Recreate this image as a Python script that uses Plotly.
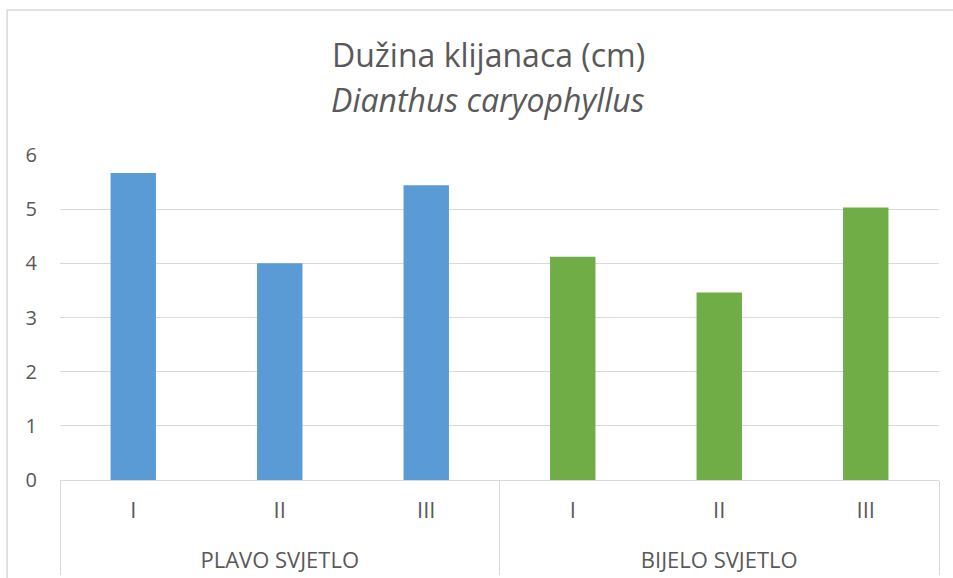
import plotly.graph_objects as go

# Podaci
grupe = ["PLAVO SVJETLO", "BIJELO SVJETLO"]
tretmani = ["I", "II", "III"]
plavo = [5.67, 4.0, 5.44]
bijelo = [4.12, 3.46, 5.03]

boja_plavo = "#5B9BD5"
boja_bijelo = "#70AD47"
siva = "#595959"
font = "Open Sans"

# prazan red ispred naziva grupe da se spusti kao u Excelu
oznake = ["<br>" + g for g in grupe]

fig = go.Figure()
fig.add_trace(go.Bar(x=[[oznake[0]] * 3, tretmani], y=plavo, marker_color=boja_plavo,
                     width=0.31, marker_line_width=0, name=grupe[0]))
fig.add_trace(go.Bar(x=[[oznake[1]] * 3, tretmani], y=bijelo, marker_color=boja_bijelo,
                     width=0.31, marker_line_width=0, name=grupe[1]))

# naslov kao dvije anotacije radi razmaka
fig.add_annotation(text="Dužina klijanaca (cm)", xref="paper", yref="paper",
                   x=0.487, y=1.3077, showarrow=False, yanchor="middle",
                   font=dict(size=32, color=siva, family=font))
fig.add_annotation(text="<i>Dianthus caryophyllus</i>", xref="paper", yref="paper",
                   x=0.487, y=1.1723, showarrow=False, yanchor="middle",
                   font=dict(size=32, color=siva, family=font))

# okvir grafikona
fig.add_shape(type="rect", xref="paper", yref="paper", x0=-0.0602, x1=1.2, y0=-0.6, y1=1.446,
              line=dict(color="#D9D9D9", width=1.5), layer="below")

fig.update_layout(
    width=953, height=578,
    margin=dict(l=60, r=14, t=155, b=98),
    paper_bgcolor="white", plot_bgcolor="white",
    font=dict(family=font, size=20, color=siva),
    barmode="overlay", showlegend=False,
)
fig.update_xaxes(type="multicategory", showline=True, linecolor="#D9D9D9", linewidth=1,
                 dividercolor="#D9D9D9", dividerwidth=1, tickfont=dict(size=22, color=siva),
                 showgrid=False, ticklabelstandoff=11, automargin=False)
fig.update_yaxes(range=[0, 6], dtick=1, showgrid=True, gridcolor="#D9D9D9", gridwidth=1,
                 zeroline=False, showline=False, ticklabelstandoff=22, automargin=False,
                 tickfont=dict(size=20, color=siva))

fig.write_html("out.html", config={"displayModeBar": False},
               post_script="document.body.style.margin='0';")
